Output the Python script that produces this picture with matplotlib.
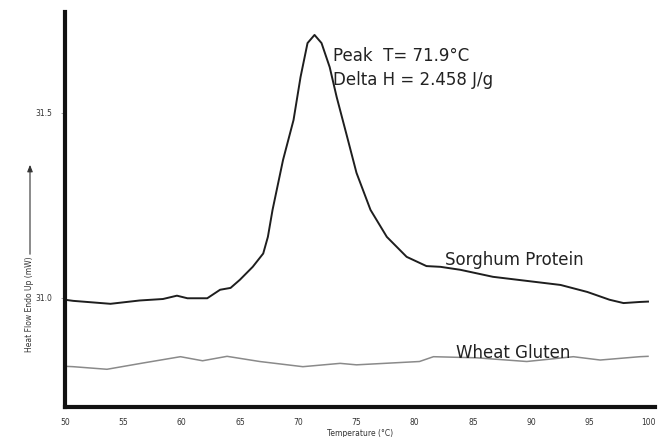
import matplotlib
matplotlib.use("Agg")
import matplotlib.pyplot as plt

# Sorghum protein DSC trace
sorghum_T = [50.0, 50.7, 53.9, 56.4, 58.4, 59.6, 60.5, 62.2, 63.3, 64.2, 65.0, 66.1, 67.0,
             67.4, 67.8, 68.7, 69.6, 70.2, 70.8, 71.4, 72.0, 72.7, 73.3, 74.2, 75.0,
             76.2, 77.6, 79.3, 81.0, 82.2, 83.9, 86.7, 89.6, 92.5, 94.8, 96.7, 97.9, 99.3, 100.0]
sorghum_H = [30.995, 30.992, 30.984, 30.993, 30.997, 31.006, 30.999, 30.999, 31.022, 31.027,
             31.049, 31.084, 31.12, 31.165, 31.238, 31.373, 31.481, 31.597, 31.689, 31.711,
             31.689, 31.624, 31.543, 31.435, 31.338, 31.238, 31.165, 31.111, 31.086, 31.084,
             31.076, 31.057, 31.046, 31.035, 31.016, 30.995, 30.986, 30.989, 30.99]

# Wheat gluten DSC trace
wheat_T = [50.0, 50.7, 53.6, 56.7, 59.9, 61.8, 63.9, 66.7, 70.4, 73.6, 75.0, 80.4, 81.6,
           85.3, 89.6, 93.6, 95.9, 99.3, 100.0]
wheat_H = [30.815, 30.814, 30.807, 30.824, 30.841, 30.83, 30.842, 30.828, 30.814, 30.823,
           30.819, 30.828, 30.841, 30.838, 30.828, 30.841, 30.832, 30.841, 30.842]

x_ticks = [50, 55, 60, 65, 70, 75, 80, 85, 90, 95, 100]
y_ticks = [31.0, 31.5]
y_tick_labels = ["31.0", "31.5"]

fig = plt.figure(figsize=(6.63, 4.37), dpi=100)
ax = fig.add_axes([65/663, 1-407/437, (655-65)/663, (407-12)/437])

ax.plot(sorghum_T, sorghum_H, color="#1e1e1e", lw=1.4)
ax.plot(wheat_T, wheat_H, color="#8a8a8a", lw=1.1)

ax.set_xlim(50, 100.6)
ax.set_ylim(30.705, 31.773)

for s in ["top", "right"]:
    ax.spines[s].set_visible(False)
for s in ["left", "bottom"]:
    ax.spines[s].set_linewidth(3)
    ax.spines[s].set_color("#111111")

ax.set_xticks(x_ticks)
ax.set_xticklabels([str(t) for t in x_ticks], fontsize=5.5, color="#333333")
ax.set_yticks(y_ticks)
ax.set_yticklabels(y_tick_labels, fontsize=5.5, color="#333333")
ax.tick_params(axis="x", length=0, pad=8)
ax.tick_params(axis="y", length=3, width=0.6, color="#999999", pad=6)

ax.set_xlabel("Temperature (°C)", fontsize=5.5, color="#333333", labelpad=1)

# y label with arrow
fig.text(30/663, 1-304/437, "Heat Flow Endo Up (mW)", rotation=90, fontsize=5.5,
         color="#333333", ha="center", va="center")
fig.add_artist(matplotlib.patches.FancyArrowPatch(
    (30/663, 1-257/437), (30/663, 1-162/437), transform=fig.transFigure,
    arrowstyle="-|>,head_length=4,head_width=1.6", lw=0.8, color="#333333"))

ax.text(73.0, 31.654, "Peak  T= 71.9°C", fontsize=12, color="#222222", ha="left", va="center",
        family="DejaVu Sans")
ax.text(73.0, 31.589, "Delta H = 2.458 J/g", fontsize=12, color="#222222", ha="left", va="center",
        family="DejaVu Sans")
ax.text(88.5, 31.103, "Sorghum Protein", fontsize=12, color="#222222", ha="center", va="center",
        family="DejaVu Sans")
ax.text(88.4, 30.851, "Wheat Gluten", fontsize=12, color="#222222", ha="center", va="center",
        family="DejaVu Sans")

fig.savefig("out.png", dpi=100)
